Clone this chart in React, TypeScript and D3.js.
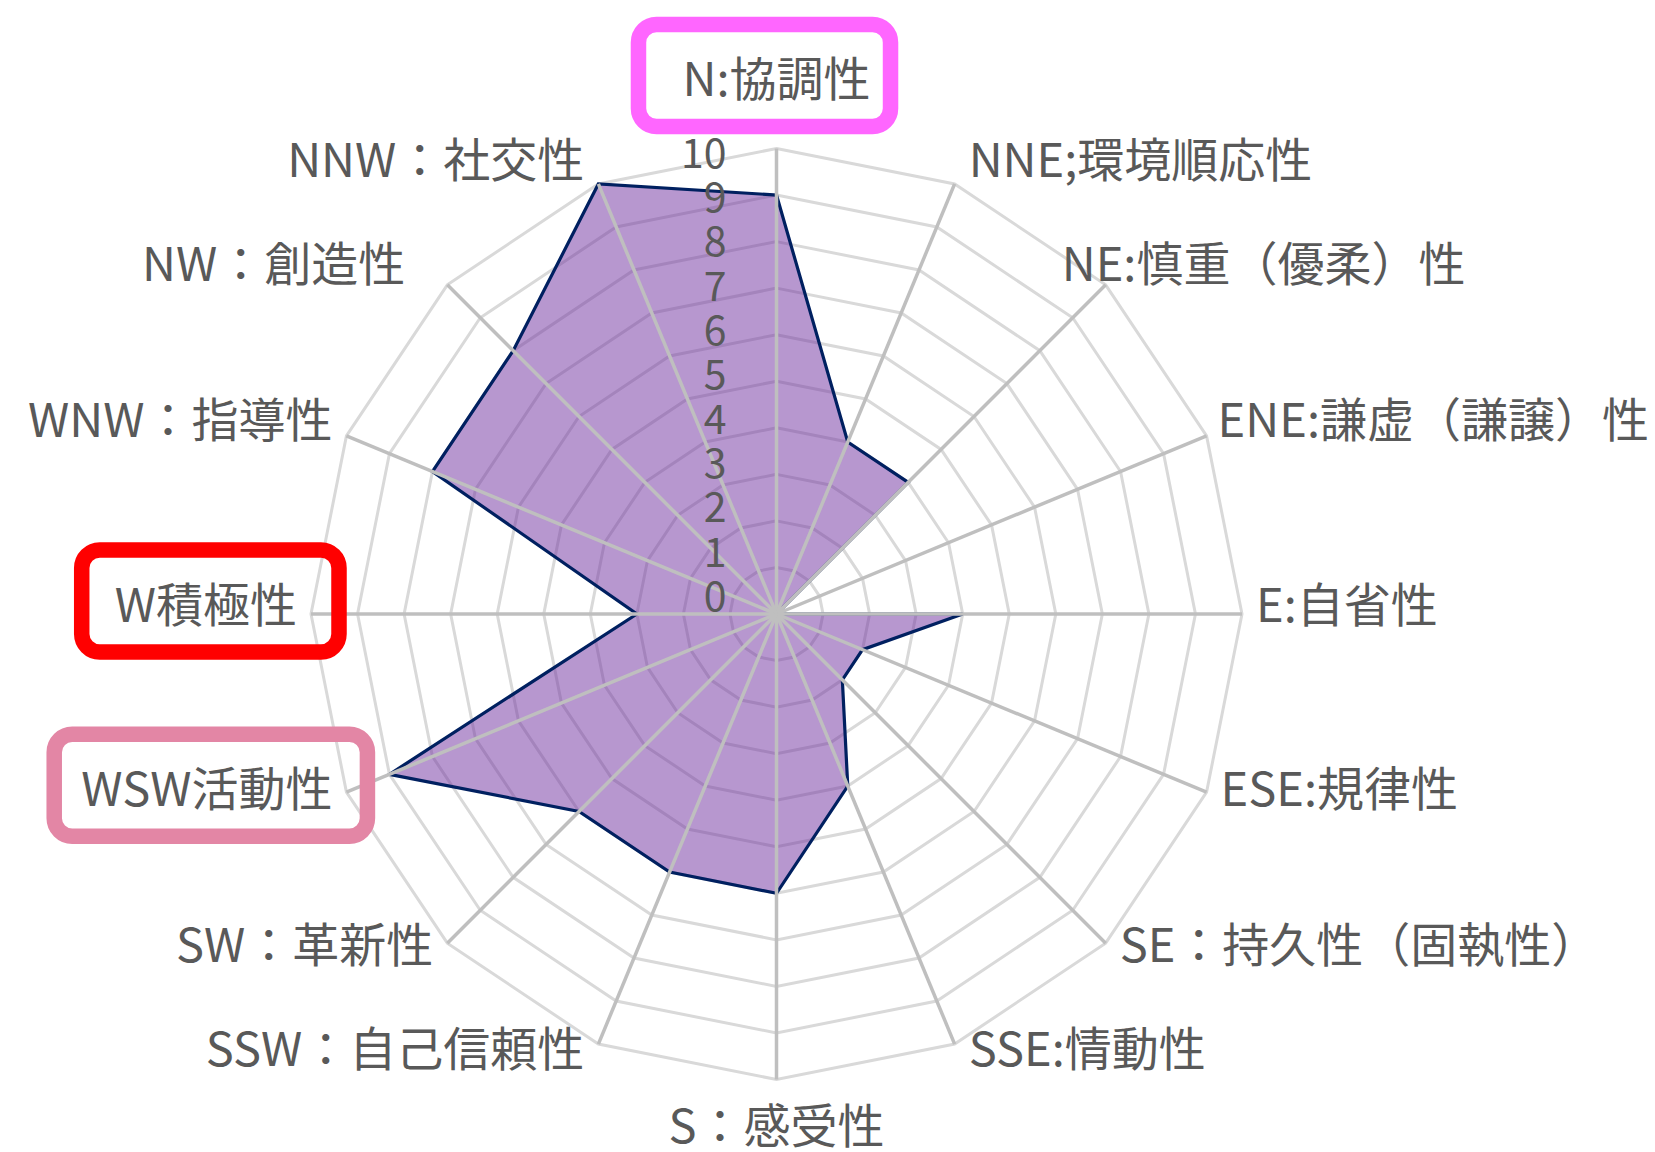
import React, { useEffect, useRef } from "react";
import * as d3 from "d3";

const categories = [
  "N:協調性",
  "NNE;環境順応性",
  "NE:慎重（優柔）性",
  "ENE:謙虚（謙譲）性",
  "E:自省性",
  "ESE:規律性",
  "SE：持久性（固執性）",
  "SSE:情動性",
  "S：感受性",
  "SSW：自己信頼性",
  "SW：革新性",
  "WSW活動性",
  "W積極性",
  "WNW：指導性",
  "NW：創造性",
  "NNW：社交性",
];
const values = [9, 4, 4, 0, 4, 2, 2, 4, 6, 6, 6, 9, 3, 8, 8, 10];
const tickValues = [0, 1, 2, 3, 4, 5, 6, 7, 8, 9, 10];
const highlightCategories = ["N:協調性", "W積極性", "WSW活動性"];
const highlightColors = ["#FF66FF", "#FF0000", "#E386A5"];

const W = 1655;
const H = 1152;

export default function App() {
  const ref = useRef<SVGSVGElement | null>(null);

  useEffect(() => {
    document.body.style.margin = "0";
    const svg = d3.select(ref.current);
    svg.selectAll("*").remove();

    const cx = 776.5;
    const cy = 614;
    const R = 465.5;
    const font = "'Noto Sans CJK JP', 'Noto Sans', sans-serif";
    const n = categories.length;

    const angle = d3
      .scaleLinear()
      .domain([0, n])
      .range([0, 2 * Math.PI]);
    const r = d3.scaleLinear().domain([0, 10]).range([0, R]);
    const pt = (i: number, v: number): [number, number] => {
      const a = angle(i);
      return [cx + r(v) * Math.sin(a), cy - r(v) * Math.cos(a)];
    };

    const line = d3
      .line<[number, number]>()
      .x((d) => d[0])
      .y((d) => d[1])
      .curve(d3.curveLinearClosed);

    const g = svg.append("g");

    // rings
    tickValues
      .filter((t) => t > 0)
      .forEach((t) => {
        g.append("path")
          .attr("d", line(d3.range(n).map((i) => pt(i, t))))
          .attr("fill", "none")
          .attr("stroke", "#d9d9d9")
          .attr("stroke-width", 3);
      });

    // series
    g.append("path")
      .attr("d", line(values.map((v, i) => pt(i, v))))
      .attr("fill", "rgba(112,48,160,0.5)")
      .attr("stroke", "#002060")
      .attr("stroke-width", 3.2)
      .attr("stroke-linejoin", "miter");

    // spokes
    d3.range(n).forEach((i) => {
      const [x, y] = pt(i, 10);
      g.append("line")
        .attr("x1", cx)
        .attr("y1", cy)
        .attr("x2", x)
        .attr("y2", y)
        .attr("stroke", "#bfbfbf")
        .attr("stroke-width", 3.5);
    });

    // tick labels
    const tickY = d3.scaleLinear().domain([0, 10]).range([cy - 21, cy - R + 1]);
    tickValues.forEach((t) => {
      g.append("text")
        .attr("x", cx - 50)
        .attr("y", tickY(t))
        .attr("text-anchor", "end")
        .attr("dominant-baseline", "central")
        .attr("font-family", font)
        .attr("font-size", 41)
        .attr("fill", "#595959")
        .text(String(t));
    });

    // category labels
    const nudge: Record<number, number> = { 2: -58, 14: -28 };
    const labelInfo: { [k: string]: { left: number; right: number; y: number } } = {};
    categories.forEach((c, i) => {
      const a = angle(i);
      const s = Math.sin(a);
      const co = Math.cos(a);
      const [vx, vy] = pt(i, 10);
      let anchor = "middle";
      let x = vx;
      let y = vy;
      if (Math.abs(s) < 0.01) {
        y = co > 0 ? vy - 73 : vy + 43;
      } else {
        anchor = s > 0 ? "start" : "end";
        x = vx + 14 * Math.sign(s) + (nudge[i] || 0);
        y = vy - 13 - 16 * co;
      }
      const t = g
        .append("text")
        .attr("x", x)
        .attr("y", y)
        .attr("text-anchor", anchor)
        .attr("dominant-baseline", "central")
        .attr("font-family", font)
        .attr("font-size", 47)
        .attr("fill", "#595959")
        .text(c);
      const w = (t.node() as SVGTextElement).getComputedTextLength();
      let left = anchor === "start" ? x : anchor === "end" ? x - w : x - w / 2;
      if (left + w > W - 6) {
        left = W - 6 - w;
        t.attr("text-anchor", "start").attr("x", left);
      }
      if (left < 6) {
        left = 6;
        t.attr("text-anchor", "start").attr("x", left);
      }
      labelInfo[c] = { left, right: left + w, y };
    });

    // highlight boxes
    const pads: [number, number][] = [
      [44, 20],
      [33, 42],
      [27, 35],
    ];
    highlightCategories.forEach((c, k) => {
      const info = labelInfo[c];
      if (!info) return;
      const x0 = info.left - pads[k][0];
      const x1 = info.right + pads[k][1];
      const y0 = info.y - 51;
      const y1 = info.y + 51;
      svg
        .append("rect")
        .attr("x", x0)
        .attr("y", y0)
        .attr("width", x1 - x0)
        .attr("height", y1 - y0)
        .attr("rx", 18)
        .attr("fill", "none")
        .attr("stroke", highlightColors[k])
        .attr("stroke-width", 15.5);
    });
  }, []);

  return (
    <svg
      ref={ref}
      width={W}
      height={H}
      style={{ display: "block", background: "#fff" }}
    />
  );
}
